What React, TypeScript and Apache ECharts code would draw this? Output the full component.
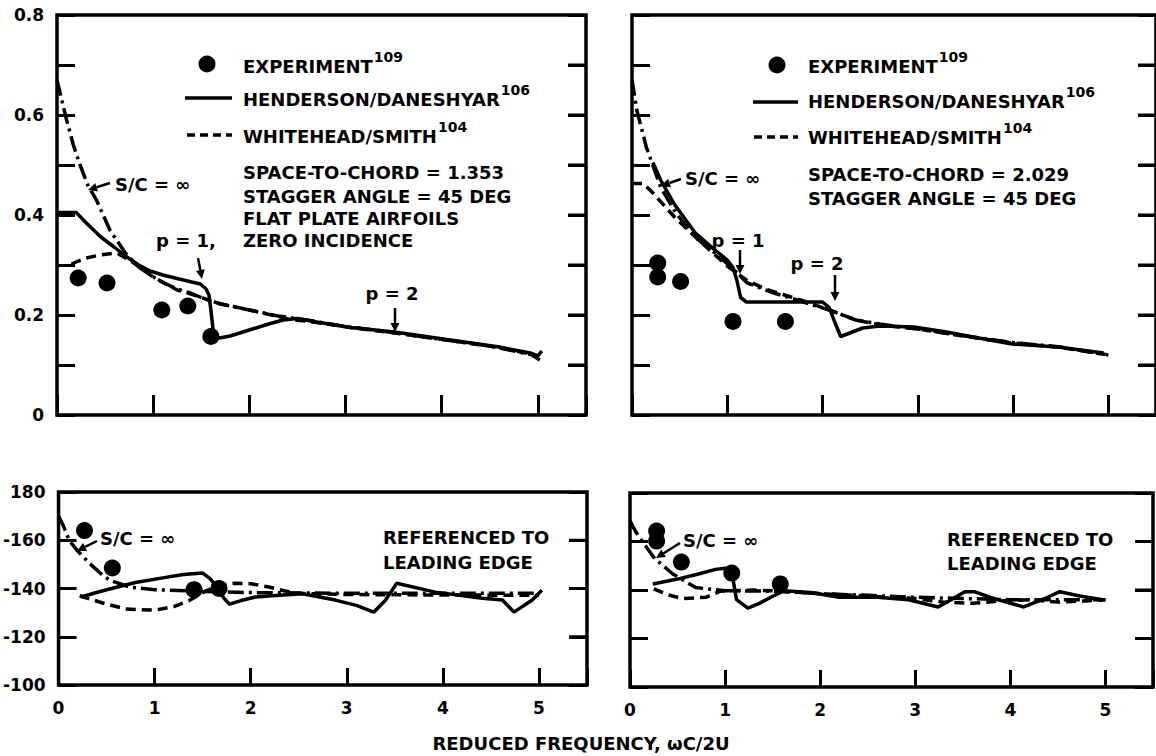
import React, { useEffect, useRef } from "react";
import * as echarts from "echarts";

// ---------------- data ----------------
const xTickValues = [0, 1, 2, 3, 4, 5];
const xMax = 5.5;
const ampTickLabels: Record<string, string> = { "0": "0", "2": "0.2", "4": "0.4", "6": "0.6", "8": "0.8" };
const phaseTickLabels: Record<string, string> = { "180": "180", "160": "-160", "140": "-140", "120": "-120", "100": "-100" };
const ampRightTicks = [0.1, 0.2, 0.3, 0.4, 0.5, 0.6, 0.7];
const phaseRightTicks = [120, 140, 160];

// top-left: amplitude, S/C = 1.353
const tlExperiment: [number, number][] = [[0.22, 0.274], [0.52, 0.264], [1.09, 0.21], [1.36, 0.218], [1.6, 0.157]];
const tlHenderson: [number, number][] = [
  [0, 0.405], [0.2, 0.405], [0.3, 0.385], [0.45, 0.357], [0.6, 0.335], [0.71, 0.318], [0.85, 0.3], [0.97, 0.288],
  [1.1, 0.28], [1.25, 0.273], [1.4, 0.266], [1.49, 0.262], [1.55, 0.252], [1.58, 0.24], [1.6, 0.21], [1.62, 0.175],
  [1.64, 0.16], [1.69, 0.154], [1.8, 0.158], [2.0, 0.17], [2.2, 0.182], [2.35, 0.19], [2.5, 0.193], [2.7, 0.186],
  [3.05, 0.175], [3.51, 0.166], [4.09, 0.15], [4.6, 0.136], [4.92, 0.124], [5.0, 0.118], [5.04, 0.128],
];
const tlWhitehead: [number, number][] = [
  [0.15, 0.302], [0.3, 0.314], [0.45, 0.32], [0.62, 0.324], [0.75, 0.31], [0.86, 0.296], [1.0, 0.276], [1.25, 0.25],
  [1.49, 0.236], [1.62, 0.226], [2.14, 0.204], [2.4, 0.192], [2.7, 0.185], [3.05, 0.175], [3.51, 0.164], [4.09, 0.149],
  [4.6, 0.135], [4.92, 0.122], [5.02, 0.11],
];
const tlInfinite: [number, number][] = [
  [0, 0.67], [0.05, 0.63], [0.1, 0.59], [0.17, 0.54], [0.24, 0.5], [0.32, 0.46], [0.41, 0.43], [0.55, 0.37],
  [0.71, 0.324], [0.85, 0.296], [0.97, 0.28], [1.1, 0.265], [1.25, 0.252], [1.4, 0.243], [1.5, 0.235], [1.7, 0.222],
  [2.0, 0.21], [2.3, 0.198], [2.6, 0.19], [3.0, 0.177], [3.5, 0.165], [4.0, 0.151], [4.5, 0.138], [5.0, 0.118],
];

// top-right: amplitude, S/C = 2.029
const trExperiment: [number, number][] = [[0.27, 0.304], [0.27, 0.276], [0.51, 0.267], [1.06, 0.187], [1.61, 0.187]];
const trHenderson: [number, number][] = [
  [0.22, 0.505], [0.3, 0.47], [0.45, 0.42], [0.66, 0.365], [0.87, 0.33], [1.0, 0.31], [1.06, 0.295], [1.1, 0.27],
  [1.14, 0.235], [1.2, 0.226], [1.5, 0.226], [1.8, 0.226], [2.0, 0.226], [2.07, 0.215], [2.13, 0.185], [2.19, 0.157],
  [2.3, 0.165], [2.42, 0.174], [2.6, 0.178], [2.96, 0.176], [3.3, 0.166], [3.58, 0.156], [3.99, 0.142], [4.47, 0.136],
  [4.95, 0.124],
];
const trWhitehead: [number, number][] = [
  [0, 0.463], [0.12, 0.463], [0.22, 0.444], [0.45, 0.395], [0.7, 0.35], [1.0, 0.298], [1.2, 0.27], [1.4, 0.252],
  [1.6, 0.24], [1.8, 0.228], [2.07, 0.21], [2.35, 0.19], [2.6, 0.18], [3.0, 0.172], [3.5, 0.157], [4.0, 0.144],
  [4.5, 0.135], [5.0, 0.12],
];
const trInfinite: [number, number][] = [
  [0, 0.67], [0.05, 0.61], [0.15, 0.536], [0.3, 0.456], [0.46, 0.404], [0.66, 0.356], [0.87, 0.324], [1.04, 0.296],
  [1.21, 0.264], [1.49, 0.244], [1.8, 0.226], [2.07, 0.21], [2.35, 0.19], [2.6, 0.182], [3.0, 0.172], [3.5, 0.158],
  [4.0, 0.145], [4.5, 0.136], [5.0, 0.12],
];

// bottom-left: phase, S/C = 1.353
const blExperiment: [number, number][] = [[0.27, 164], [0.56, 148.5], [1.41, 139.5], [1.67, 140]];
const blHenderson: [number, number][] = [
  [0.23, 136.5], [0.5, 139.5], [0.8, 142.5], [1.1, 144.5], [1.3, 145.8], [1.5, 146.4], [1.58, 144], [1.65, 140.5],
  [1.72, 136], [1.78, 133.5], [1.9, 135], [2.05, 136.5], [2.3, 137.2], [2.54, 137.8], [2.88, 135.2], [3.1, 133],
  [3.28, 130.2], [3.4, 135], [3.52, 142.2], [3.92, 138.5], [4.41, 136], [4.62, 135.2], [4.74, 130.2], [4.93, 135.2],
  [5.03, 139.3],
];
const blWhitehead: [number, number][] = [
  [0.22, 137], [0.46, 134], [0.7, 131.5], [1.0, 131], [1.2, 132.5], [1.36, 135], [1.53, 139], [1.7, 141.5],
  [1.84, 142.2], [2.0, 142], [2.19, 140.6], [2.46, 138], [3.0, 137.5], [4.0, 137.3], [5.0, 137.2],
];
const blInfinite: [number, number][] = [
  [0, 170], [0.05, 166], [0.11, 160], [0.2, 155.5], [0.32, 150.5], [0.43, 146.5], [0.53, 143.5], [0.74, 140.6],
  [1.0, 139.5], [1.5, 138.8], [2.0, 138.3], [3.0, 138], [4.0, 138], [5.0, 138],
];

// bottom-right: phase, S/C = 2.029
const brExperiment: [number, number][] = [[0.28, 164.3], [0.28, 160.2], [0.54, 151.5], [1.07, 147], [1.58, 142.5]];
const brHenderson: [number, number][] = [
  [0.24, 142.5], [0.5, 144.5], [0.72, 146.6], [0.9, 148.5], [1.0, 149], [1.06, 148], [1.09, 143], [1.12, 136],
  [1.24, 132.5], [1.36, 134.5], [1.48, 137], [1.62, 139.7], [1.9, 139], [2.2, 137], [2.6, 137], [2.93, 136],
  [3.24, 133], [3.4, 136.5], [3.52, 139.3], [3.62, 139.3], [3.8, 136.8], [4.14, 133], [4.38, 136.8], [4.52, 139.3],
  [4.73, 137.5], [4.97, 136],
];
const brWhitehead: [number, number][] = [
  [0.25, 140.5], [0.4, 138], [0.55, 136.5], [0.8, 137], [0.95, 139.5], [1.3, 140], [1.6, 139.5], [2.0, 138.5],
  [2.5, 137.5], [3.0, 136.5], [3.3, 135], [3.6, 134.5], [3.9, 135.5], [4.2, 136], [4.5, 135], [4.8, 135.5], [5.0, 136],
];
const brInfinite: [number, number][] = [
  [0, 168.5], [0.06, 164], [0.13, 160], [0.26, 153], [0.45, 146.6], [0.69, 141], [1.0, 139.7], [1.5, 139.5],
  [2.0, 138.5], [2.5, 137.8], [3.0, 137], [3.5, 136.5], [4.0, 136], [4.5, 136], [5.0, 136],
];

// ---------------- styling helpers ----------------
const FONT = "DejaVu Sans";
const BLACK = "#000";
const LW = 3.5;
const solidStyle = { color: BLACK, width: LW, type: "solid" as any };
const dashStyle = { color: BLACK, width: LW, type: [10, 6] as any };
const chainStyle = { color: BLACK, width: LW, type: [16, 5, 3, 5] as any };

function lineSeries(data: [number, number][], idx: number, style: any) {
  return {
    type: "line", xAxisIndex: idx, yAxisIndex: idx * 2, data, symbol: "none", smooth: false,
    lineStyle: style, silent: true, z: 3,
  };
}
function pointSeries(data: [number, number][], idx: number) {
  return {
    type: "scatter", xAxisIndex: idx, yAxisIndex: idx * 2, data, symbol: "circle", symbolSize: 17,
    itemStyle: { color: BLACK, opacity: 1 }, silent: true, z: 4,
  };
}

function txt(x: number, y: number, text: string, extra: any = {}) {
  return {
    type: "text", x, y, silent: true,
    style: {
      text, fontFamily: FONT, fontWeight: "bold", fontSize: 18, fill: BLACK,
      align: "left", verticalAlign: "middle", ...extra,
    },
  };
}
function supTxt(x: number, y: number, main: string, sup: string) {
  return {
    type: "text", x, y, silent: true,
    style: {
      text: `{n|${main}}{s|${sup}}`, align: "left", verticalAlign: "middle", fill: BLACK,
      rich: {
        n: { fontFamily: FONT, fontWeight: "bold", fontSize: 18, fill: BLACK },
        s: { fontFamily: FONT, fontWeight: "bold", fontSize: 14, fill: BLACK, padding: [0, 0, 18, 1] },
      },
    },
  };
}
function arrow(x1: number, y1: number, x2: number, y2: number) {
  const a = Math.atan2(y2 - y1, x2 - x1);
  const L = 9, W = 4.5;
  const bx = x2 - L * Math.cos(a), by = y2 - L * Math.sin(a);
  const px = -Math.sin(a) * W, py = Math.cos(a) * W;
  return [
    { type: "line", silent: true, shape: { x1, y1, x2: bx, y2: by }, style: { stroke: BLACK, lineWidth: 2.5 } },
    { type: "polygon", silent: true, shape: { points: [[x2, y2], [bx + px, by + py], [bx - px, by - py]] }, style: { fill: BLACK } },
  ];
}
function sample(x1: number, x2: number, y: number, dash: number[] | null) {
  return {
    type: "line", silent: true, shape: { x1, y1: y, x2, y2: y },
    style: { stroke: BLACK, lineWidth: LW, lineDash: dash || undefined },
  };
}

const panels = [
  { left: 57, top: 15, width: 529, height: 400 },
  { left: 632, top: 15, width: 532, height: 400 },
  { left: 56, top: 492, width: 531, height: 193 },
  { left: 630, top: 493, width: 531, height: 194 },
];

function baseGraphic(): any[] {
  return [
    // top-left legend & notes
    { type: "circle", silent: true, shape: { cx: 207, cy: 64, r: 8.5 }, style: { fill: BLACK } },
    supTxt(243, 66, "EXPERIMENT", "109"),
    sample(185, 232, 98, null),
    supTxt(243, 99, "HENDERSON/DANESHYAR", "106"),
    sample(187, 232, 135, [8, 5]),
    supTxt(243, 136, "WHITEHEAD/SMITH", "104"),
    txt(243, 172, "SPACE-TO-CHORD = 1.353"),
    txt(243, 196, "STAGGER ANGLE = 45 DEG"),
    txt(243, 218, "FLAT PLATE AIRFOILS"),
    txt(243, 240, "ZERO INCIDENCE"),
    txt(115, 184, "S/C = ∞"),
    ...arrow(110, 183, 88, 190),
    txt(156, 240, "p = 1,"),
    ...arrow(198, 258, 202, 279),
    txt(392, 293, "p = 2", { align: "center" }),
    ...arrow(395, 308, 395, 332),
    // top-right legend & notes
    { type: "circle", silent: true, shape: { cx: 777, cy: 65, r: 8.5 }, style: { fill: BLACK } },
    supTxt(808, 66, "EXPERIMENT", "109"),
    sample(753, 798, 102, null),
    supTxt(808, 101, "HENDERSON/DANESHYAR", "106"),
    sample(754, 798, 137, [8, 5]),
    supTxt(808, 137, "WHITEHEAD/SMITH", "104"),
    txt(808, 174, "SPACE-TO-CHORD = 2.029"),
    txt(808, 198, "STAGGER ANGLE = 45 DEG"),
    txt(685, 178, "S/C = ∞"),
    ...arrow(681, 179, 661, 186),
    txt(738, 240, "p = 1", { align: "center" }),
    ...arrow(740, 250, 740, 274),
    txt(817, 263, "p = 2", { align: "center" }),
    ...arrow(835, 275, 835, 301),
    // bottom-left notes
    txt(100, 538, "S/C = ∞"),
    ...arrow(97, 541, 77, 551),
    txt(383, 537, "REFERENCED TO"),
    txt(383, 562, "LEADING EDGE"),
    // bottom-right notes
    txt(683, 540, "S/C = ∞"),
    ...arrow(680, 543, 656, 558),
    txt(947, 539, "REFERENCED TO"),
    txt(947, 563, "LEADING EDGE"),
    // common x-axis title
    txt(581, 743, "REDUCED FREQUENCY, ωC/2U", { align: "center" }),
  ];
}

function buildOption() {
  const labelFont = { fontFamily: FONT, fontWeight: "bold", fontSize: 17, color: BLACK };
  const scaleOf = (i: number) => (i < 2 ? { min: 0, max: 0.8, interval: 0.1 } : { min: 100, max: 180, interval: 20 });

  const grids = panels.map((g) => ({ ...g, show: true, borderColor: BLACK, borderWidth: 3.5 }));

  const xAxes = panels.map((_, i) => ({
    type: "value", gridIndex: i, min: 0, max: xMax, interval: 1, position: "bottom",
    axisLine: { show: false, onZero: false }, splitLine: { show: false },
    axisTick: { show: true, inside: true, length: i < 2 ? 20 : 17, lineStyle: { color: BLACK, width: 3 } },
    axisLabel: {
      show: i >= 2, margin: 14, ...labelFont,
      formatter: (v: number) => (xTickValues.indexOf(v) >= 0 ? String(v) : ""),
    },
  }));

  const yAxes: any[] = [];
  panels.forEach((_, i) => {
    const fmt = i < 2
      ? (v: number) => ampTickLabels[String(Math.round(v * 10))] || ""
      : (v: number) => phaseTickLabels[String(Math.round(v))] || "";
    yAxes.push({
      type: "value", gridIndex: i, position: "left", ...scaleOf(i),
      axisLine: { show: false, onZero: false }, splitLine: { show: false },
      axisTick: { show: true, inside: true, length: 18, lineStyle: { color: BLACK, width: 3 } },
      axisLabel: { show: i === 0 || i === 2, margin: 13, ...labelFont, formatter: fmt },
    });
    yAxes.push({
      type: "value", gridIndex: i, position: "right", ...scaleOf(i),
      axisLine: { show: false, onZero: false }, splitLine: { show: false },
      axisTick: { show: true, inside: true, length: 18, lineStyle: { color: BLACK, width: 3 } },
      axisLabel: { show: false },
    });
  });

  const series: any[] = [
    lineSeries(tlInfinite, 0, chainStyle), lineSeries(tlWhitehead, 0, dashStyle), lineSeries(tlHenderson, 0, solidStyle), pointSeries(tlExperiment, 0),
    lineSeries(trInfinite, 1, chainStyle), lineSeries(trWhitehead, 1, dashStyle), lineSeries(trHenderson, 1, solidStyle), pointSeries(trExperiment, 1),
    lineSeries(blInfinite, 2, chainStyle), lineSeries(blWhitehead, 2, dashStyle), lineSeries(blHenderson, 2, solidStyle), pointSeries(blExperiment, 2),
    lineSeries(brInfinite, 3, chainStyle), lineSeries(brWhitehead, 3, dashStyle), lineSeries(brHenderson, 3, solidStyle), pointSeries(brExperiment, 3),
  ];

  return {
    animation: false,
    backgroundColor: "#fff",
    grid: grids,
    xAxis: xAxes,
    yAxis: yAxes,
    series,
    graphic: baseGraphic(),
  };
}

// inward tick marks on each panel's right edge, positioned through the panel's own scales
function rightTickGraphic(chart: any): any[] {
  const out: any[] = [];
  const sets = [ampRightTicks, ampRightTicks, phaseRightTicks, phaseRightTicks];
  sets.forEach((vals, i) => {
    vals.forEach((v) => {
      const p = chart.convertToPixel({ gridIndex: i }, [xMax, v]);
      if (!p) return;
      out.push({
        type: "line", silent: true, z: 50,
        shape: { x1: p[0] - 18, y1: p[1], x2: p[0], y2: p[1] },
        style: { stroke: BLACK, lineWidth: 3 },
      });
    });
  });
  return out;
}

export default function App() {
  const ref = useRef<HTMLDivElement>(null);
  useEffect(() => {
    if (!ref.current) return;
    const chart = echarts.init(ref.current, undefined, { renderer: "svg" });
    chart.setOption(buildOption() as any);
    const ticks = rightTickGraphic(chart);
    chart.setOption({ graphic: [...baseGraphic(), ...ticks] } as any);
    return () => chart.dispose();
  }, []);
  return (
    <div
      ref={ref}
      style={{ position: "absolute", left: 0, top: 0, width: 1156, height: 756, background: "#fff" }}
    />
  );
}
